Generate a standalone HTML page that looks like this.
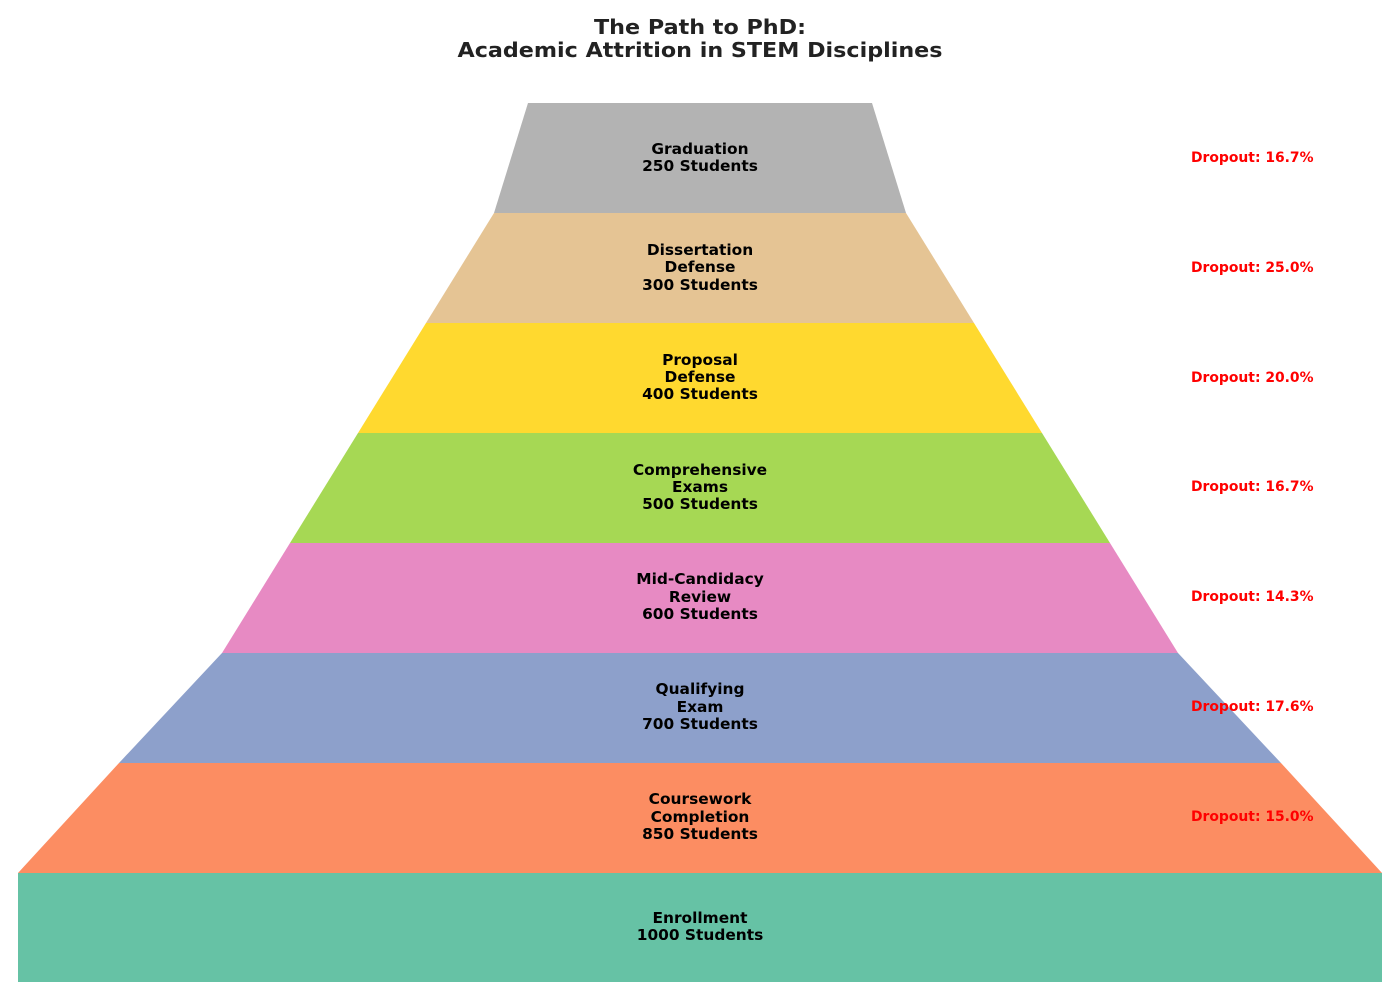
<!DOCTYPE html>
<html><head><meta charset="utf-8"><style>
html,body{margin:0;padding:0;background:#fff;}
svg{display:block;}
text{font-family:"DejaVu Sans","Liberation Sans",sans-serif;font-weight:bold;}
.l{font-size:15.4px;fill:#000;text-anchor:middle;}
.d{font-size:13.9px;fill:#ff0000;}
</style></head><body>
<svg width="1400" height="1000" viewBox="0 0 1400 1000" xmlns="http://www.w3.org/2000/svg">
<rect width="1400" height="1000" fill="#fff"/>
<text x="700" y="34" text-anchor="middle" font-size="20" fill="#222" textLength="212" lengthAdjust="spacingAndGlyphs">The Path to PhD:</text>
<text x="700" y="57" text-anchor="middle" font-size="20" fill="#222" textLength="485" lengthAdjust="spacingAndGlyphs">Academic Attrition in STEM Disciplines</text>

<polygon points="528,103 872,103 906,213 494,213" fill="#b3b3b3"/>
<polygon points="494,213 906,213 974,323 426,323" fill="#e5c494"/>
<polygon points="426,323 974,323 1042,433 358,433" fill="#ffd92f"/>
<polygon points="358,433 1042,433 1110,543 290,543" fill="#a6d854"/>
<polygon points="290,543 1110,543 1178,653 222,653" fill="#e78ac3"/>
<polygon points="222,653 1178,653 1281,763 119,763" fill="#8da0cb"/>
<polygon points="119,763 1281,763 1382,873 18,873" fill="#fc8d62"/>
<rect x="18" y="873" width="1364" height="109" fill="#66c2a5"/>

<text class="l" x="700" y="154">Graduation</text>
<text class="l" x="700" y="171">250 Students</text>

<text class="l" x="700" y="255">Dissertation</text>
<text class="l" x="700" y="272">Defense</text>
<text class="l" x="700" y="290">300 Students</text>

<text class="l" x="700" y="365">Proposal</text>
<text class="l" x="700" y="382">Defense</text>
<text class="l" x="700" y="399">400 Students</text>

<text class="l" x="700" y="475">Comprehensive</text>
<text class="l" x="700" y="492">Exams</text>
<text class="l" x="700" y="509">500 Students</text>

<text class="l" x="700" y="584">Mid-Candidacy</text>
<text class="l" x="700" y="602">Review</text>
<text class="l" x="700" y="619">600 Students</text>

<text class="l" x="700" y="694">Qualifying</text>
<text class="l" x="700" y="712">Exam</text>
<text class="l" x="700" y="729">700 Students</text>

<text class="l" x="700" y="804">Coursework</text>
<text class="l" x="700" y="822">Completion</text>
<text class="l" x="700" y="839">850 Students</text>

<text class="l" x="700" y="923">Enrollment</text>
<text class="l" x="700" y="940">1000 Students</text>

<text class="d" x="1191" y="162">Dropout: 16.7%</text>
<text class="d" x="1191" y="272">Dropout: 25.0%</text>
<text class="d" x="1191" y="382">Dropout: 20.0%</text>
<text class="d" x="1191" y="491">Dropout: 16.7%</text>
<text class="d" x="1191" y="601">Dropout: 14.3%</text>
<text class="d" x="1191" y="711">Dropout: 17.6%</text>
<text class="d" x="1191" y="821">Dropout: 15.0%</text>
</svg>
</body></html>
